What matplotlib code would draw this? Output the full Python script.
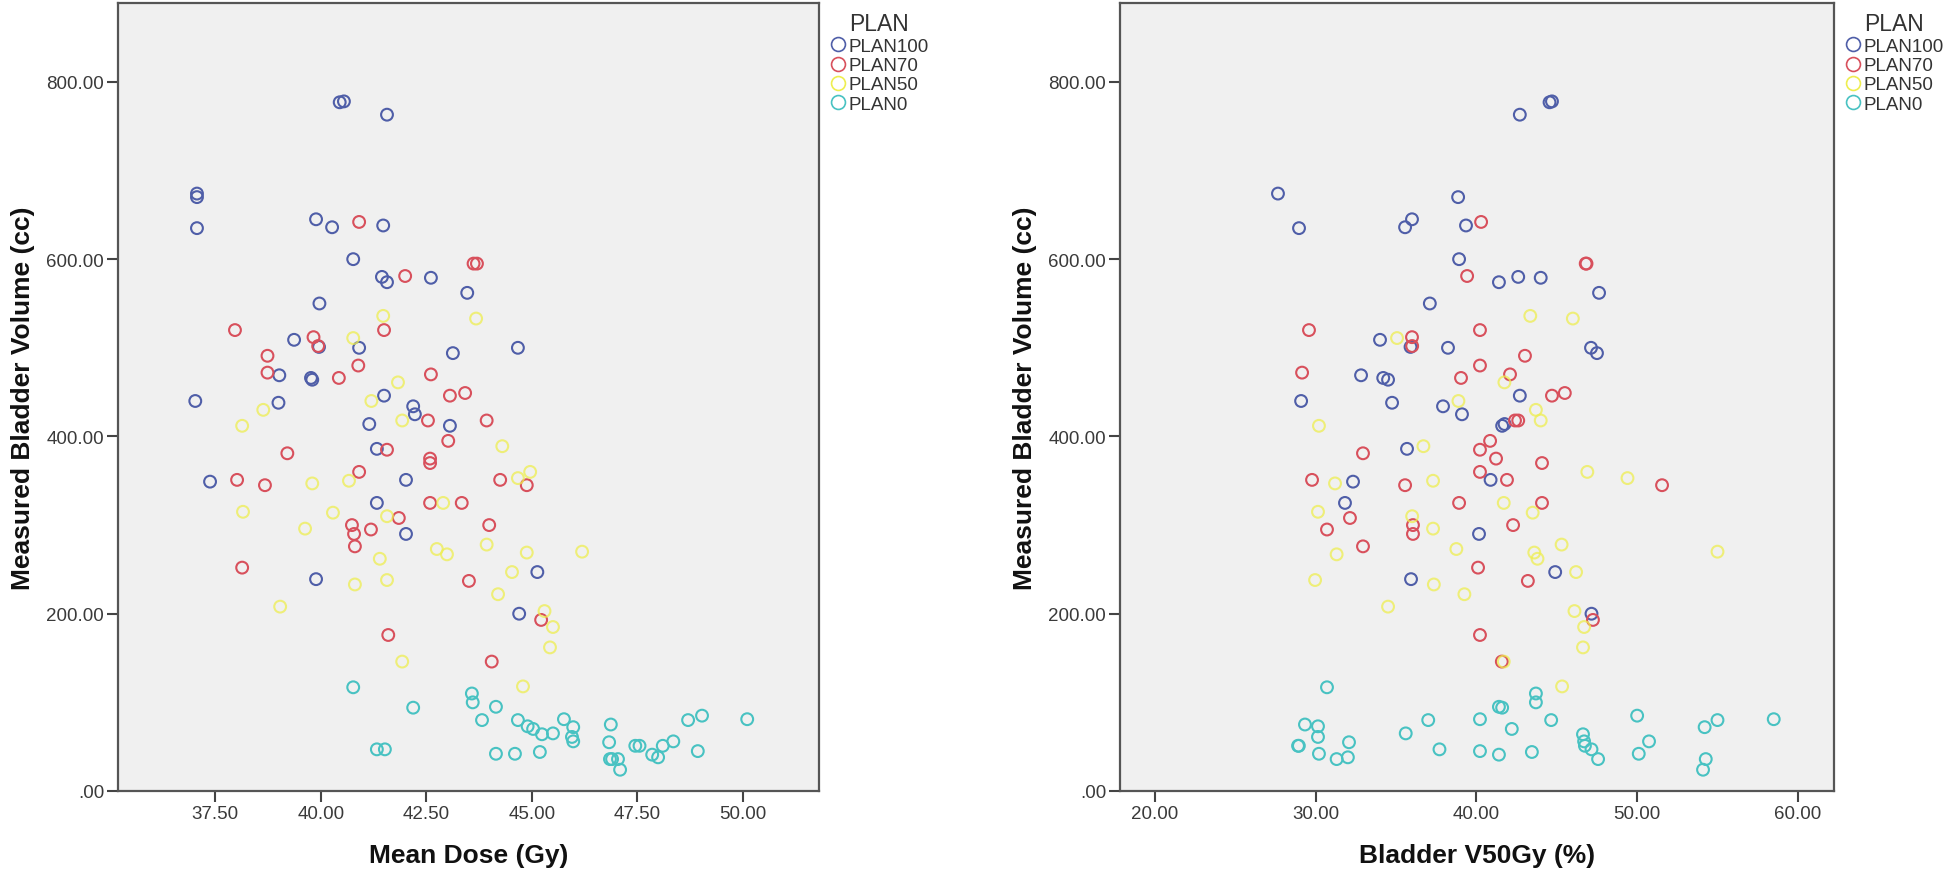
import numpy as np
import matplotlib.pyplot as plt
from matplotlib.lines import Line2D

# valores (volumen de vejiga, dosis media, V50Gy)

plans = ['PLAN100', 'PLAN70', 'PLAN50', 'PLAN0']
plan_colors = ['#4f5ea8', '#d8505c', '#eeee50', '#48c2c2']

vol_100 = [777, 778, 763, 674, 670, 635, 645, 636, 638, 600, 580, 574, 579, 562, 550, 509, 501, 500, 500, 494,
           469, 466, 464, 446, 440, 438, 434, 425, 414, 412, 386, 349, 351, 325, 290, 239, 247, 200]
dose_100 = [40.45, 40.55, 41.57, 37.07, 37.07, 37.07, 39.89, 40.27, 41.48, 40.77, 41.45, 41.57, 42.61, 43.47,
            39.97, 39.37, 39.96, 40.91, 44.67, 43.13, 39.02, 39.77, 39.80, 41.50, 37.03, 39.00, 42.19, 42.23,
            41.15, 43.06, 41.33, 37.38, 42.02, 41.33, 42.02, 39.89, 45.13, 44.70]
v50_100 = [44.55, 44.70, 42.70, 27.65, 38.86, 28.96, 35.99, 35.56, 39.35, 38.92, 42.60, 41.40, 44.00, 47.63,
           37.10, 34.00, 35.90, 38.23, 47.13, 47.50, 32.82, 34.20, 34.50, 42.70, 29.09, 34.75, 37.92, 39.10,
           41.75, 41.60, 35.68, 32.32, 40.88, 31.82, 40.16, 35.93, 44.90, 47.16]

vol_70 = [642, 595, 595, 581, 520, 520, 512, 502, 491, 480, 472, 470, 466, 449, 446, 418, 418, 395, 385, 381,
          375, 370, 360, 351, 345, 351, 345, 325, 325, 308, 295, 300, 290, 276, 300, 252, 237, 176, 146, 193]
dose_70 = [40.91, 43.62, 43.70, 42.00, 37.97, 41.50, 39.83, 39.94, 38.74, 40.89, 38.74, 42.61, 40.43, 43.42,
           43.06, 42.54, 43.93, 43.02, 41.57, 39.21, 42.59, 42.59, 40.91, 38.02, 38.68, 44.25, 44.88, 42.59,
           43.34, 41.85, 41.19, 40.74, 40.79, 40.81, 43.99, 38.14, 43.51, 41.60, 44.05, 45.22]
v50_70 = [40.29, 46.80, 46.85, 39.42, 29.58, 40.22, 35.99, 36.00, 43.02, 40.22, 29.15, 42.09, 39.04, 45.50,
          44.70, 42.40, 42.60, 40.85, 40.22, 32.94, 41.22, 44.08, 40.22, 29.77, 35.56, 41.90, 51.55, 38.92,
          44.08, 32.13, 30.70, 36.05, 36.05, 32.94, 42.28, 40.10, 43.20, 40.22, 41.58, 47.25]

vol_50 = [536, 533, 511, 461, 440, 430, 418, 412, 389, 360, 353, 350, 347, 325, 315, 314, 310, 296, 278, 273,
          270, 269, 267, 262, 247, 238, 233, 222, 208, 203, 185, 162, 146, 118]
dose_50 = [41.48, 43.68, 40.77, 41.83, 41.20, 38.64, 41.93, 38.14, 44.30, 44.96, 44.67, 40.67, 39.80, 42.90,
           38.16, 40.29, 41.57, 39.63, 43.93, 42.75, 46.19, 44.88, 42.99, 41.40, 44.53, 41.57, 40.81, 44.20,
           39.04, 45.30, 45.50, 45.43, 41.93, 44.79]
v50_50 = [43.35, 46.00, 35.06, 41.74, 38.88, 43.70, 44.00, 30.20, 36.70, 46.90, 49.40, 37.30, 31.20, 41.70,
          30.14, 43.50, 36.00, 37.30, 45.30, 38.75, 55.00, 43.60, 31.30, 43.80, 46.20, 29.96, 37.35, 39.25,
          34.50, 46.10, 46.70, 46.63, 41.70, 45.33]

vol_0 = [117, 110, 100, 95, 94, 85, 81, 81, 80, 80, 80, 75, 73, 72, 70, 65, 64, 61, 56, 56,
         55, 51, 51, 51, 47, 47, 45, 44, 42, 42, 41, 38, 36, 36, 36, 24]
dose_0 = [40.77, 43.58, 43.60, 44.15, 42.19, 49.03, 50.10, 45.76, 43.82, 44.67, 48.70, 46.87, 44.90, 45.98,
          45.03, 45.50, 45.24, 45.95, 45.98, 48.35, 46.83, 47.45, 47.55, 48.10, 41.33, 41.52, 48.93, 45.19,
          44.15, 44.60, 47.85, 47.99, 46.85, 47.04, 46.90, 47.09]
v50_0 = [30.70, 43.70, 43.70, 41.40, 41.60, 50.00, 58.50, 40.22, 37.00, 44.65, 55.00, 29.33, 30.14, 54.20,
         42.20, 35.60, 46.63, 30.14, 46.70, 50.74, 32.07, 28.90, 28.95, 46.75, 47.16, 37.70, 40.22, 43.45,
         30.20, 50.10, 41.40, 32.00, 31.30, 47.57, 54.27, 54.10]

vols = [vol_100, vol_70, vol_50, vol_0]
doses = [dose_100, dose_70, dose_50, dose_0]
v50s = [v50_100, v50_70, v50_50, v50_0]

y_ticks = [0, 200, 400, 600, 800]
dose_ticks = [37.5, 40.0, 42.5, 45.0, 47.5, 50.0]
v50_ticks = [20, 30, 40, 50, 60]

plt.rcParams['font.family'] = ['Liberation Sans', 'DejaVu Sans']

W, H = 1946, 878
fig = plt.figure(figsize=(W / 100, H / 100), dpi=100)
ax1 = fig.add_axes([118 / W, 86 / H, 701 / W, 788 / H])
ax2 = fig.add_axes([1120 / W, 86 / H, 714 / W, 788 / H])


def fmt(v):
    s = '%.2f' % v
    return s[1:] if s.startswith('0') else s


def setup_axes(ax, xs_list, xlim, xticks, xlabel):
    ax.set_facecolor('#f0f0f0')
    for i in range(4):
        alpha = 0.75 if i == 2 else 1.0
        ax.scatter(xs_list[i], vols[i], s=72, facecolors='none', edgecolors=plan_colors[i],
                   linewidths=1.5, alpha=alpha, zorder=3)
    ax.set_xlim(xlim)
    ax.set_ylim(0, 889)
    ax.set_xticks(xticks)
    ax.set_xticklabels([fmt(t) for t in xticks])
    ax.set_yticks(y_ticks)
    ax.set_yticklabels([fmt(t) for t in y_ticks])
    ax.tick_params(length=8, width=1.5, color='#444444', labelsize=13.5, labelcolor='#3a3a3a', pad=2)
    for sp in ax.spines.values():
        sp.set_color('#555555')
        sp.set_linewidth(1.6)
    ax.set_xlabel(xlabel, fontsize=19, fontweight='bold', color='#111111')
    ax.set_ylabel('Measured Bladder Volume (cc)', fontsize=19, fontweight='bold', color='#111111')
    ax.xaxis.set_label_coords(0.5, -0.066)
    ax.yaxis.set_label_coords(-0.118 * 701 / ax.get_position().width / W, 0.5)

    handles = [Line2D([], [], ls='', marker='o', ms=10, mfc='none', mec=c, mew=1.2) for c in plan_colors]
    leg = ax.legend(handles, plans, title='PLAN', loc='upper left', bbox_to_anchor=(1.0, 1.0),
                    frameon=False, fontsize=13.5, title_fontsize=16.5, labelspacing=0.12,
                    handletextpad=0.1, handlelength=1.0, borderaxespad=0.3, borderpad=0.2)
    for t in leg.get_texts():
        t.set_color('#333333')
    leg.get_title().set_color('#333333')


setup_axes(ax1, doses, (35.2, 51.8), dose_ticks, 'Mean Dose (Gy)')
setup_axes(ax2, v50s, (17.82, 62.25), v50_ticks, 'Bladder V50Gy (%)')

plt.savefig('out.png', dpi=100)
